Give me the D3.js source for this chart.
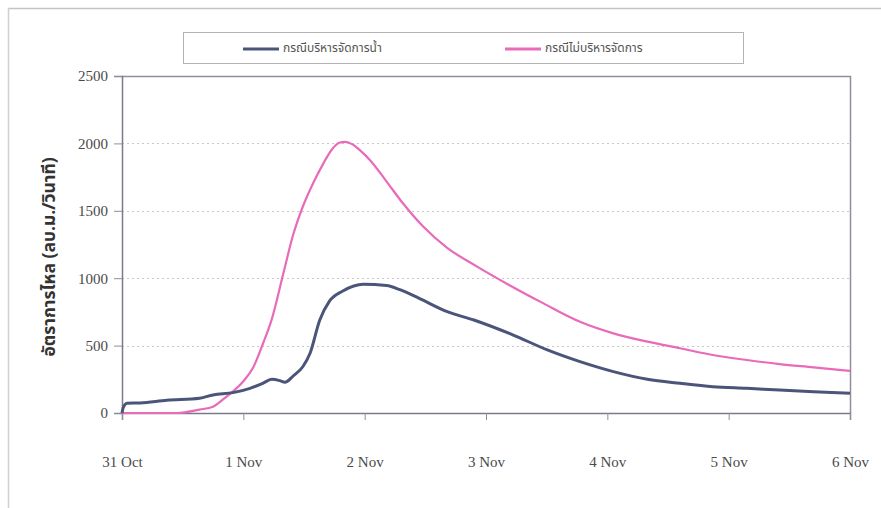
<!DOCTYPE html>
<html><head><meta charset="utf-8">
<script src="https://cdn.jsdelivr.net/npm/d3@7"></script>
<style>body{margin:0;background:#fff;}</style>
</head><body>
<svg id="c" width="881" height="508"></svg>
<script>
const seriesNames = ["กรณีบริหารจัดการน้ำ", "กรณีไม่บริหารจัดการ"];
const xTickLabels = ["31 Oct", "1 Nov", "2 Nov", "3 Nov", "4 Nov", "5 Nov", "6 Nov"];
const yTicks = [0, 500, 1000, 1500, 2000, 2500];
const yLabel = "อัตราการไหล (ลบ.ม./วินาที)";
// days since 31 Oct
const managedDays = [0, 0.01, 0.04, 0.15, 0.37, 0.64, 0.75, 0.915, 1.055, 1.16, 1.234, 1.30, 1.343, 1.41, 1.49, 1.55, 1.63, 1.71, 1.82, 1.99, 2.18, 2.29, 2.45, 2.68, 2.90, 3.22, 3.50, 3.775, 4.05, 4.33, 4.60, 4.87, 5.15, 5.42, 5.70, 6.0];
const managedVals = [0, 40, 72, 75, 95, 110, 134, 151, 183, 220, 250, 240, 228, 274, 343, 443, 690, 830, 905, 955, 945, 915, 850, 752, 690, 580, 470, 381, 307, 250, 220, 195, 183, 170, 158, 146];
const unmanagedDays = [0, 0.45, 0.64, 0.75, 0.83, 0.915, 1.0, 1.08, 1.16, 1.236, 1.33, 1.41, 1.49, 1.575, 1.66, 1.73, 1.79, 1.84, 1.90, 1.96, 2.05, 2.17, 2.32, 2.48, 2.68, 2.92, 3.19, 3.47, 3.775, 4.05, 4.33, 4.60, 4.87, 5.15, 5.42, 5.70, 6.0];
const unmanagedVals = [0, 0, 25, 47, 99, 160, 235, 336, 510, 700, 1036, 1320, 1530, 1704, 1852, 1955, 2005, 2012, 1993, 1950, 1870, 1730, 1550, 1385, 1225, 1090, 950, 815, 677, 591, 529, 480, 430, 393, 363, 339, 312];
const colors = ["#4b5479", "#e86ab9"];

const svg = d3.select("#c");
const L = 122, R = 850, T = 76, B = 413;
const x = d3.scaleLinear().domain([0, 6]).range([L, R]);
const y = d3.scaleLinear().domain([0, 2500]).range([B, T]);
const serif = '"Liberation Serif", "Times New Roman", serif';

// outer frame (partially visible)
svg.append("line").attr("x1", 8).attr("x2", 881).attr("y1", 8.5).attr("y2", 8.5).attr("stroke", "#c4c4c4").attr("stroke-width", 1.5);
svg.append("line").attr("x1", 8.5).attr("x2", 8.5).attr("y1", 8).attr("y2", 508).attr("stroke", "#d0d0d0").attr("stroke-width", 1.5);

// gridlines
svg.append("g").selectAll("line").data(yTicks.filter(v => v > 0 && v < 2500)).join("line")
  .attr("x1", L).attr("x2", R).attr("y1", d => Math.round(y(d)) + 0.5).attr("y2", d => Math.round(y(d)) + 0.5)
  .attr("stroke", "#c9c9c9").attr("stroke-width", 1).attr("stroke-dasharray", "2,3");

// plot frame top/right
svg.append("path").attr("d", `M${L},${T + 0.5}H${R + 0.5}V${B}`).attr("fill", "none").attr("stroke", "#8e8e9c").attr("stroke-width", 1.5);

// y axis
const yAxis = d3.axisLeft(y).tickValues(yTicks).tickSize(8).tickPadding(6).tickFormat(d3.format("d"));
const gy = svg.append("g").attr("transform", `translate(${L},0)`).call(yAxis);
gy.select(".domain").attr("stroke", "#7a7a8c").attr("stroke-width", 1.5);
gy.selectAll(".tick line").attr("stroke", "#8e8e9c");
gy.selectAll("text").style("font-family", serif).style("font-size", "15px").attr("fill", "#4a4a4a");

// x axis
const xAxis = d3.axisBottom(x).tickValues(d3.range(0, 7)).tickSize(7).tickPadding(36).tickFormat((d, i) => xTickLabels[i]);
const gx = svg.append("g").attr("transform", `translate(0,${B})`).call(xAxis);
gx.select(".domain").attr("stroke", "#7a7a8c").attr("stroke-width", 1.5);
gx.selectAll(".tick line").attr("stroke", "#8e8e9c");
gx.selectAll("text").style("font-family", serif).style("font-size", "15px").attr("fill", "#4a4a4a");

// lines
const line = d3.line().x(d => x(d[0])).y(d => y(d[1])).curve(d3.curveMonotoneX);
const managed = managedDays.map((d, i) => [d, managedVals[i]]);
const unmanaged = unmanagedDays.map((d, i) => [d, unmanagedVals[i]]);
svg.append("path").datum(unmanaged).attr("d", line).attr("fill", "none").attr("stroke", colors[1]).attr("stroke-width", 2.2);
svg.append("path").datum(managed).attr("d", line).attr("fill", "none").attr("stroke", colors[0]).attr("stroke-width", 3);

// y label
svg.append("text").attr("transform", "translate(50,257) rotate(-90)").attr("text-anchor", "middle").attr("dominant-baseline", "middle")
  .attr("font-family", "Noto Sans Thai, Noto Sans, DejaVu Sans, sans-serif").attr("font-weight", "bold").attr("font-size", 17.5).attr("fill", "#333")
  .text(yLabel);

// legend
const lg = svg.append("g");
lg.append("rect").attr("x", 183.5).attr("y", 32.5).attr("width", 560).attr("height", 31).attr("fill", "#fff").attr("stroke", "#b4b4b4").attr("stroke-width", 1);
const legendX = [243, 505];
seriesNames.forEach((n, i) => {
  lg.append("line").attr("x1", legendX[i]).attr("x2", legendX[i] + 36).attr("y1", 49).attr("y2", 49).attr("stroke", colors[i]).attr("stroke-width", 3);
  lg.append("text").attr("x", legendX[i] + 40).attr("y", 49).attr("dominant-baseline", "middle")
    .attr("font-family", "Noto Sans Thai, Noto Sans, DejaVu Sans, sans-serif").attr("font-size", 12).attr("fill", "#555").text(n);
});
</script>
</body></html>
